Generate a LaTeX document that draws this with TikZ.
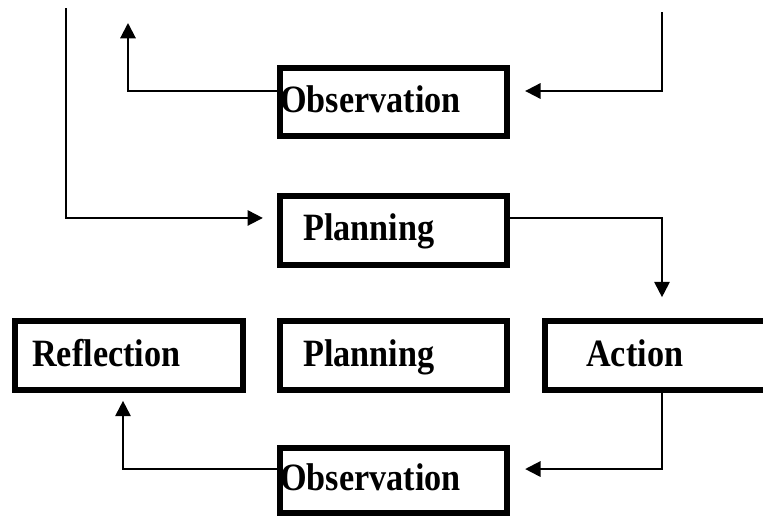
\documentclass[tikz,border=0pt]{standalone}
\usepackage{fontspec}
\newfontfamily\boxfont{Liberation Serif}[FakeStretch=0.885]
\usetikzlibrary{arrows.meta}
\begin{document}
\begin{tikzpicture}[x=0.75pt, y=-0.75pt,
  stagebox/.style={draw, line width=4.5pt, minimum width=170.5pt, minimum height=51.5pt, inner sep=0pt},
  lbl/.style={inner sep=0pt, anchor=base west, font=\boxfont\bfseries\fontsize{29pt}{31pt}\selectfont},
  conn/.style={line width=1.5pt, -{Triangle[length=11.5pt,width=11.5pt]}}]
\useasboundingbox (0,0) rectangle (763,518);
\clip (0,0) rectangle (763,518);
\node[stagebox] (obs1) at (393.5,102){};
\node[stagebox] (plan1) at (393.5,230.5){};
\node[stagebox, minimum width=171pt] (refl) at (129,355.5){};
\node[stagebox] (plan2) at (393.5,355.5){};
\node[stagebox, minimum width=175.5pt] (act) at (662,355.5){};
\node[stagebox, minimum height=48.75pt] (obs2) at (393.5,480.5){};
\node[lbl] (obs1t) at (280,112){Observation};
\node[lbl] (plan1t) at (303,240){Planning};
\node[lbl] (reflt) at (32,366){Reflection};
\node[lbl] (plan2t) at (303,366){Planning};
\node[lbl] (actt) at (586,366){Action};
\node[lbl] (obs2t) at (280,490){Observation};
\coordinate (topL) at (66,8);
\coordinate (topR) at (662,12);
\coordinate (upL) at (128,23);
\draw[conn, shorten >=10.5pt] (topL) |- ([yshift=9.4pt]plan1.west);
\draw[conn] ([yshift=8.25pt]obs1.west) -| (upL);
\draw[conn, shorten >=11.25pt] (topR) |- ([yshift=8.25pt]obs1.east);
\draw[conn, shorten >=15.75pt] ([yshift=9.4pt]plan1.east) -| (act.north);
\draw[conn, shorten >=11.25pt] (act.south) |- ([yshift=8.6pt]obs2.east);
\draw[conn, shorten >=6pt] ([yshift=8.6pt]obs2.west) -| ([xshift=-4.5pt]refl.south);
\end{tikzpicture}
\end{document}
